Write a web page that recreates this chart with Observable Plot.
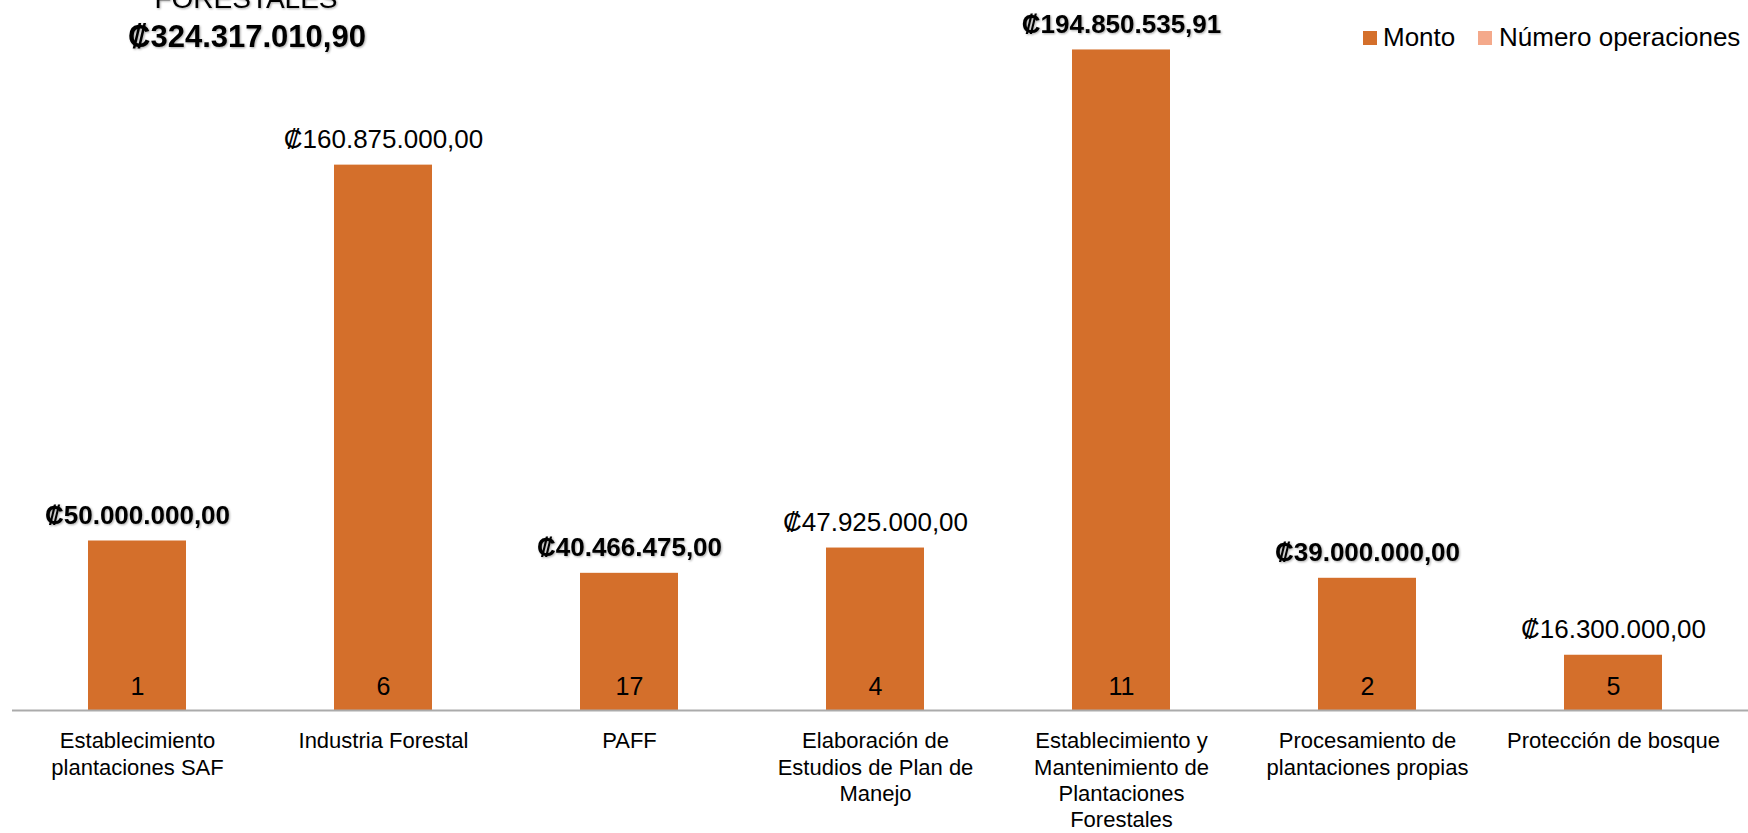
<!DOCTYPE html>
<html>
<head>
<meta charset="utf-8">
<script src="https://cdn.jsdelivr.net/npm/d3@7"></script>
<script src="https://cdn.jsdelivr.net/npm/@observablehq/plot@0.6"></script>
<style>
  body { margin: 0; background: #fff; }
  #chart { width: 1748px; height: 833px; overflow: hidden; }
  #chart svg { font-family: "Liberation Sans", Arial, sans-serif; }
</style>
</head>
<body>
<div id="chart"></div>
<script>
// ---- data ----
const categories = [
  "Establecimiento plantaciones SAF",
  "Industria Forestal",
  "PAFF",
  "Elaboración de Estudios de Plan de Manejo",
  "Establecimiento y Mantenimiento de Plantaciones Forestales",
  "Procesamiento de plantaciones propias",
  "Protección de bosque"
];
const tickLabels = [
  "Establecimiento\nplantaciones SAF",
  "Industria Forestal",
  "PAFF",
  "Elaboración de\nEstudios de Plan de\nManejo",
  "Establecimiento y\nMantenimiento de\nPlantaciones\nForestales",
  "Procesamiento de\nplantaciones propias",
  "Protección de bosque"
];
const montos = [50000000, 160875000, 40466475, 47925000, 194850535.91, 39000000, 16300000];
const operaciones = [1, 6, 17, 4, 11, 2, 5];
const emphasized = ["Establecimiento plantaciones SAF", "PAFF", "Establecimiento y Mantenimiento de Plantaciones Forestales", "Procesamiento de plantaciones propias"];
const titleLines = ["FORESTALES", "₡324.317.010,90"];
const seriesNames = ["Monto", "Número operaciones"];
const seriesColors = ["#D46F2B", "#F4A98B"];

// ---- build ----
const fmt = d3.formatLocale({decimal: ",", thousands: ".", grouping: [3], currency: ["₡", ""]}).format("$,.2f");
const data = categories.map((c, i) => ({categoria: c, monto: montos[i], ops: operaciones[i]}));
const emph = new Set(emphasized);

const chart = Plot.plot({
  width: 1748,
  height: 833,
  marginTop: 32,
  marginBottom: 123,
  marginLeft: 12,
  marginRight: 0,
  style: {background: "#fff", color: "#000", fontFamily: "\"Liberation Sans\", Arial, sans-serif", overflow: "visible"},
  x: {domain: categories, range: [12, 1738], paddingInner: 0.6, paddingOuter: 0.3, label: null},
  y: {domain: [0, 200e6], axis: null},
  marks: [
    Plot.barY(data, {x: "categoria", y: "monto", fill: seriesColors[0], inset: 0}),
    Plot.ruleY([0], {stroke: "#ABABAB", strokeWidth: 2}),
    Plot.axisX({
      tickSize: 0, tickPadding: 19, fontSize: 22, lineHeight: 1.2, fill: "#000",
      tickFormat: c => tickLabels[categories.indexOf(c)], label: null
    }),
    Plot.text(data.filter(d => !emph.has(d.categoria)), {
      x: "categoria", y: "monto", text: d => fmt(d.monto),
      lineAnchor: "bottom", dy: -17, fontSize: 26, fill: "#000"
    }),
    Plot.text(data.filter(d => emph.has(d.categoria)), {
      x: "categoria", y: "monto", text: d => fmt(d.monto),
      lineAnchor: "bottom", dy: -17, fontSize: 26, fontWeight: "bold", fill: "#000"
    }),
    Plot.text(data, {
      x: "categoria", y: () => 0, text: d => String(d.ops),
      lineAnchor: "bottom", dy: -16, fontSize: 25, fill: "#000"
    })
  ]
});

document.getElementById("chart").appendChild(chart);

const svg = d3.select(chart);
svg.selectAll("g[font-weight='bold'] text")
  .style("filter", "drop-shadow(1.5px 1.5px 1.2px rgba(0,0,0,0.35))");

// clipped title above first bar
svg.append("text")
  .attr("x", 246).attr("y", 8)
  .attr("text-anchor", "middle")
  .attr("font-size", 28)
  .attr("fill", "#000")
  .style("filter", "drop-shadow(1.5px 1.5px 1.2px rgba(0,0,0,0.35))")
  .text(titleLines[0]);
svg.append("text")
  .attr("x", 247).attr("y", 47)
  .attr("text-anchor", "middle")
  .attr("font-size", 31)
  .attr("font-weight", "bold")
  .attr("fill", "#000")
  .style("filter", "drop-shadow(1.5px 1.5px 1.2px rgba(0,0,0,0.35))")
  .text(titleLines[1]);

// legend
const legendPos = [{sx: 1363, tx: 1383}, {sx: 1478, tx: 1499}];
const lg = svg.append("g").attr("text-anchor", "start");
seriesNames.forEach((name, i) => {
  lg.append("rect")
    .attr("x", legendPos[i].sx).attr("y", 31)
    .attr("width", 14).attr("height", 14)
    .attr("fill", seriesColors[i]);
  lg.append("text")
    .attr("x", legendPos[i].tx).attr("y", 46)
    .attr("text-anchor", "start")
    .attr("font-size", 26)
    .attr("fill", "#000")
    .text(name);
});
</script>
</body>
</html>
